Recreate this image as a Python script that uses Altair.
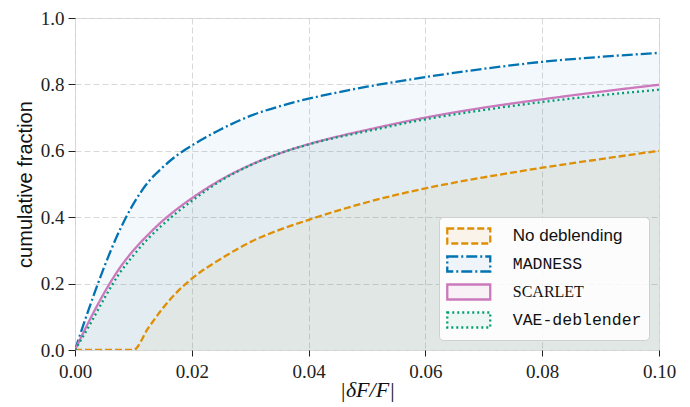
import altair as alt
import pandas as pd

# ---- data ----
series_names = ["No deblending", "MADNESS", "SCARLET", "VAE-deblender"]
series_colors = ["#de8f05", "#0173b2", "#cc78bc", "#029e73"]

grid_x = [0, 0.0025, 0.005, 0.0075, 0.01, 0.0125, 0.015, 0.0175, 0.02, 0.025,
          0.03, 0.035, 0.04, 0.045, 0.05, 0.06, 0.07, 0.08, 0.09, 0.10]
madness_y = [0, 0.13, 0.25, 0.355, 0.44, 0.505, 0.55, 0.587, 0.616, 0.665,
             0.705, 0.734, 0.757, 0.776, 0.793, 0.822, 0.847, 0.868, 0.883, 0.895]
scarlet_y = [0, 0.09, 0.172, 0.243, 0.30, 0.347, 0.389, 0.425, 0.457, 0.513,
             0.557, 0.592, 0.62, 0.643, 0.663, 0.70, 0.73, 0.755, 0.778, 0.799]
vae_y = [0, 0.075, 0.155, 0.228, 0.285, 0.335, 0.377, 0.415, 0.449, 0.51,
         0.556, 0.592, 0.619, 0.641, 0.659, 0.695, 0.723, 0.747, 0.767, 0.784]

nodeb_x = [0, 0.01, 0.0125, 0.015, 0.0175, 0.02, 0.025, 0.03, 0.035, 0.04,
           0.045, 0.05, 0.06, 0.07, 0.08, 0.09, 0.10]
nodeb_y = [0, 0, 0.065, 0.125, 0.175, 0.215, 0.275, 0.325, 0.362, 0.392,
           0.42, 0.445, 0.487, 0.52, 0.549, 0.575, 0.60]

x_ticks = [0, 0.02, 0.04, 0.06, 0.08, 0.10]
y_ticks = [0, 0.2, 0.4, 0.6, 0.8, 1.0]

rows = []
for s, xs, ys in [("No deblending", nodeb_x, nodeb_y),
                  ("MADNESS", grid_x, madness_y),
                  ("SCARLET", grid_x, scarlet_y),
                  ("VAE-deblender", grid_x, vae_y)]:
    for xv, yv in zip(xs, ys):
        rows.append({"series": s, "x": xv, "y": yv})
df = pd.DataFrame(rows)

serif = "Liberation Serif"
sans = "Liberation Sans"

x_enc = alt.X("x:Q", scale=alt.Scale(domain=[0, 0.1], nice=False, zero=False),
              axis=alt.Axis(values=x_ticks, format=".2f", title="|δF/F|", labelFlush=False,
                            labelPadding=6,
                            titleFont=serif, titleFontStyle="italic", titleFontSize=22,
                            titleFontWeight="normal", titleY=39, titleBaseline="middle"))
y_enc = alt.Y("y:Q", scale=alt.Scale(domain=[0, 1], nice=False),
              axis=alt.Axis(values=y_ticks, format=".1f", title="cumulative fraction",
                            labelFlush=False,
                            titleFont=sans, titleFontSize=20, titleFontWeight="normal",
                            titlePadding=5))

areas = []
for s, c in zip(series_names, series_colors):
    areas.append(
        alt.Chart(df).transform_filter(alt.datum.series == s)
        .mark_area(color=c, fillOpacity=0.05, interpolate="monotone", clip=True)
        .encode(x=x_enc, y=y_enc)
    )

label_font = ("datum.label == 'No deblending' ? 'Liberation Sans' : "
              "datum.label == 'SCARLET' ? 'Liberation Serif' : 'Liberation Mono'")
label_size = ("datum.label == 'SCARLET' ? 16 : "
              "datum.label == 'No deblending' ? 17 : 16.5")
symbol_fill = ("datum.label == 'No deblending' ? '#faf3ea' : "
               "datum.label == 'MADNESS' ? '#eef4f9' : "
               "datum.label == 'SCARLET' ? '#f8f1f6' : '#edf6f2'")

legend_spec = dict(title=None, orient="bottom-right", offset=10,
                   fillColor="rgba(255,255,255,0.85)", strokeColor="#d0d0d0",
                   cornerRadius=4, padding=7, rowPadding=2,
                   symbolType="M-2,-0.7H2V0.7H-2Z", symbolSize=462,
                   symbolOffset=10.75, labelOffset=32,
                   symbolStrokeWidth=2.3, symbolFillColor=alt.ExprRef(symbol_fill),
                   labelFont=alt.ExprRef(label_font),
                   labelFontSize=alt.ExprRef(label_size),
                   labelColor="#111111")

lines = alt.Chart(df).mark_line(interpolate="monotone", strokeWidth=2.3, clip=True).encode(
    x=x_enc, y=y_enc,
    color=alt.Color("series:N", sort=series_names,
                    scale=alt.Scale(domain=series_names, range=series_colors),
                    legend=alt.Legend(**legend_spec)),
    strokeDash=alt.StrokeDash("series:N", sort=series_names,
                              scale=alt.Scale(domain=series_names,
                                              range=[[7, 3], [11, 3, 2, 3], [1, 0], [2, 3]]),
                              legend=alt.Legend(**legend_spec)),
)

chart = alt.layer(*areas, lines).properties(
    width=584, height=332,
    autosize=alt.AutoSizeParams(type="none"),
    padding={"left": 67, "top": 10, "right": 20, "bottom": 57},
).configure_view(
    stroke="#d0d0d0", strokeWidth=1
).configure_axis(
    domain=False, grid=True, gridColor="#d9d9d9", gridDash=[6, 3], gridWidth=1,
    tickColor="#222222", tickSize=6, tickWidth=1,
    labelFont=serif, labelFontSize=19, labelColor="#222222", labelPadding=3,
    titleColor="#111111",
).configure_axisY(tickSize=7, labelPadding=4)

chart.save("out.html", embed_options={"renderer": "svg", "actions": False})
